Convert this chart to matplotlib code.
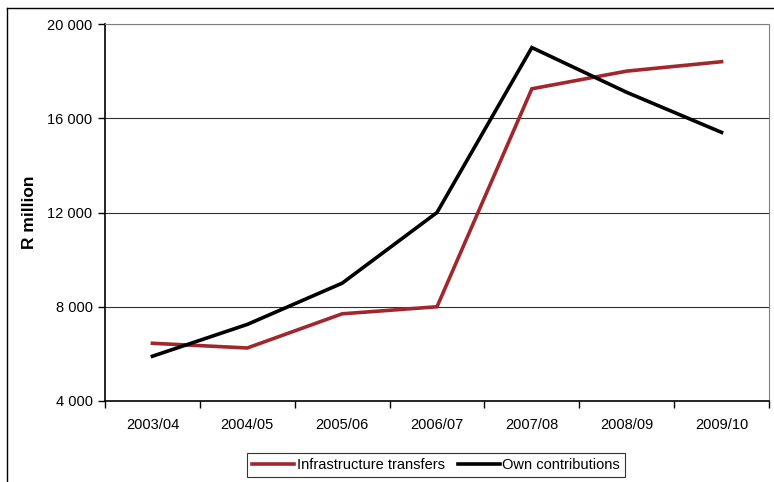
import matplotlib
matplotlib.use("Agg")
import matplotlib.pyplot as plt
from matplotlib.lines import Line2D
from matplotlib.ticker import FixedLocator, FuncFormatter

years = ["2003/04", "2004/05", "2005/06", "2006/07", "2007/08", "2008/09", "2009/10"]
infrastructure_transfers = [6450, 6250, 7700, 8000, 17250, 18000, 18400]
own_contributions = [5900, 7250, 9000, 12000, 19000, 17100, 15400]
y_ticks = [4000, 8000, 12000, 16000, 20000]

plt.rcParams["font.family"] = ["Liberation Sans", "DejaVu Sans"]

W, H = 774, 482
RED = "#A0282D"
fig = plt.figure(figsize=(W / 100, H / 100), dpi=100)
ax = fig.add_axes([105 / W, 1 - 401 / H, (769 - 105) / W, (401 - 24) / H])

x = list(range(len(years)))
ax.plot(x, infrastructure_transfers, color=RED, lw=2.6,
        solid_joinstyle="miter", label="Infrastructure transfers", zorder=3)
ax.plot(x, own_contributions, color="black", lw=2.6,
        solid_joinstyle="miter", label="Own contributions", zorder=4)

ax.set_xlim(-0.5, len(years) - 0.5)
ax.set_ylim(4000, 20000)
ax.yaxis.set_major_locator(FixedLocator(y_ticks))
ax.yaxis.set_major_formatter(FuncFormatter(lambda v, p: f"{int(v):,}".replace(",", " ")))
ax.set_xticks(x)
ax.set_xticklabels(years)
ax.xaxis.set_minor_locator(FixedLocator([i - 0.5 for i in range(len(years) + 1)]))
ax.tick_params(axis="x", which="major", length=0, pad=12, labelsize=10.5)
ax.tick_params(axis="x", which="minor", length=5, width=1, direction="out")
ax.tick_params(axis="y", length=5, width=1, direction="out", labelsize=10.5, pad=4)

for v in y_ticks[1:]:
    ax.axhline(v, color="#303030", lw=0.8, zorder=1)

for side in ("top", "right"):
    ax.spines[side].set_color("#808080")
    ax.spines[side].set_linewidth(0.8)
for side in ("left", "bottom"):
    ax.spines[side].set_color("black")
    ax.spines[side].set_linewidth(1.2)

ax.set_ylabel("R million", fontsize=12.5, fontweight="bold")
ax.yaxis.set_label_coords(37 / W, 1 - 212 / H, transform=fig.transFigure)

handles = [Line2D([], [], color=RED, lw=2.6), Line2D([], [], color="black", lw=2.6)]
leg = fig.legend(handles, ["Infrastructure transfers", "Own contributions"],
                 loc="center", bbox_to_anchor=(436 / W, 1 - 465 / H), ncol=2,
                 frameon=True, fancybox=False, fontsize=10.5, handlelength=2.9,
                 handletextpad=0.15, columnspacing=0.9, borderpad=0.35,
                 edgecolor="black")
leg.get_frame().set_linewidth(0.8)

# outer chart frame (left and top edges)
fig.add_artist(Line2D([7 / W, 7 / W], [0, 1 - 8 / H], transform=fig.transFigure,
                      color="black", lw=1.0))
fig.add_artist(Line2D([7 / W, 1], [1 - 8 / H, 1 - 8 / H], transform=fig.transFigure,
                      color="black", lw=1.0))

fig.savefig("out.png", dpi=100)
